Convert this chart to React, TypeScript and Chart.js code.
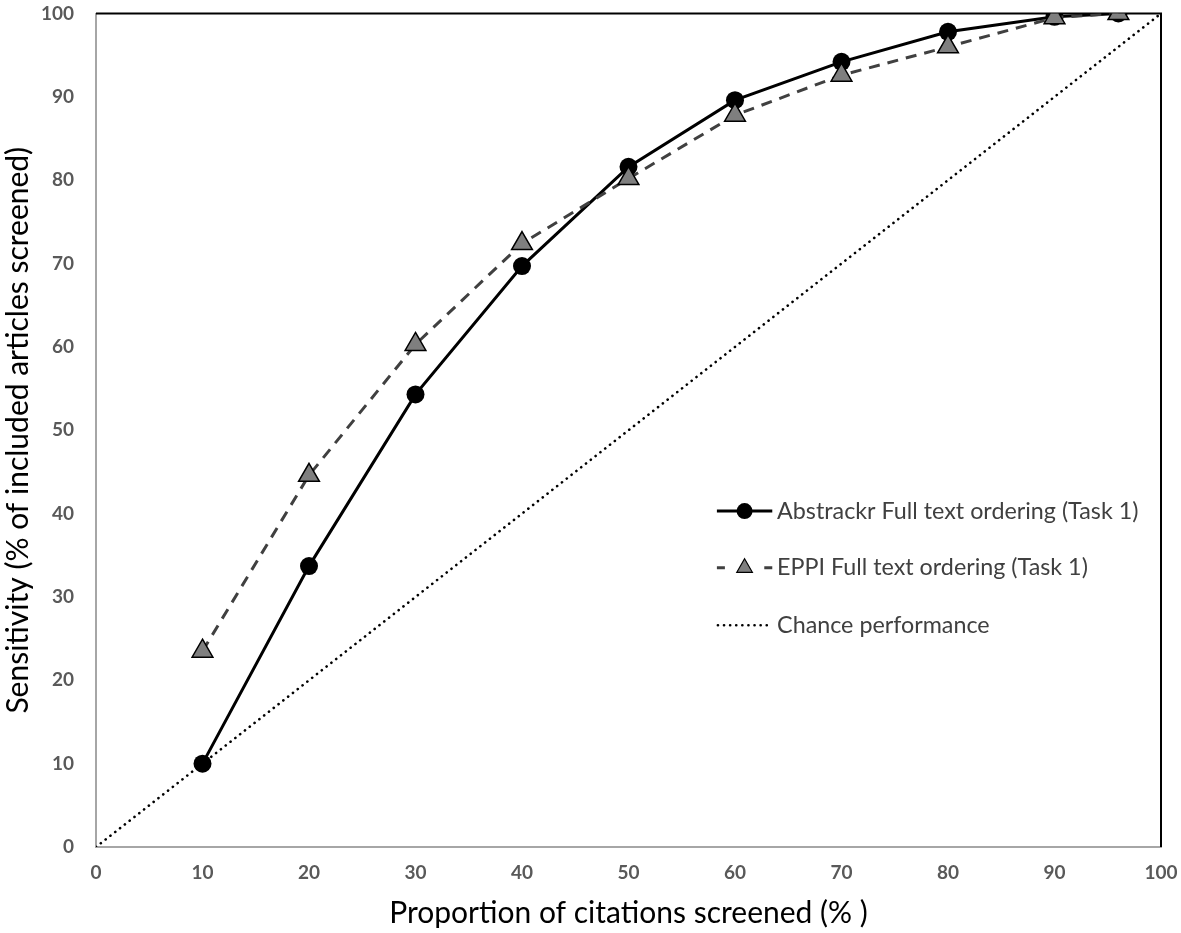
import React, { useEffect, useRef } from "react";
import { Chart, registerables } from "chart.js";

Chart.register(...registerables);

const proportionScreened = [10, 20, 30, 40, 50, 60, 70, 80, 90, 96];
const abstrackrSensitivity = [10.0, 33.7, 54.3, 69.7, 81.6, 89.6, 94.2, 97.8, 99.6, 100];
const eppiSensitivity = [23.5, 44.6, 60.3, 72.4, 80.2, 87.8, 92.6, 96.0, 99.5, 100];
const chanceX = [0, 100];
const chanceY = [0, 100];
const seriesLabels = [
  "Abstrackr Full text ordering (Task 1)",
  "EPPI Full text ordering (Task 1)",
  "Chance performance",
];
const xTitle = "Proportion of citations screened (% )";
const yTitle = "Sensitivity (% of included articles screened)";

const FONT = "Lato, Calibri, 'Open Sans', sans-serif";

const frameAndLegend = {
  id: "frameAndLegend",
  beforeDatasetsDraw(chart: any) {
    const { ctx, chartArea } = chart;
    ctx.save();
    ctx.strokeStyle = "#000";
    ctx.lineWidth = 2;
    ctx.beginPath();
    ctx.moveTo(chartArea.left, chartArea.top);
    ctx.lineTo(chartArea.right, chartArea.top);
    ctx.lineTo(chartArea.right, chartArea.bottom);
    ctx.stroke();
    ctx.restore();
  },
  afterDraw(chart: any) {
    const { ctx } = chart;
    const xScale = chart.scales.x;
    const yScale = chart.scales.y;
    const x0 = xScale.getPixelForValue(58.3);
    const x1 = xScale.getPixelForValue(63.5);
    const tx = xScale.getPixelForValue(63.95);
    const rowYs = [40.3, 33.5, 26.6].map((v) => yScale.getPixelForValue(v));
    ctx.save();
    chart.data.datasets.forEach((ds: any, i: number) => {
      const y = rowYs[i];
      const cx = (x0 + x1) / 2;
      ctx.strokeStyle = ds.borderColor;
      ctx.lineWidth = ds.borderWidth;
      ctx.lineCap = i === 2 ? "round" : "butt";
      if (i === 0) {
        ctx.setLineDash([]);
        ctx.beginPath();
        ctx.moveTo(x0, y);
        ctx.lineTo(x1, y);
        ctx.stroke();
        ctx.fillStyle = "#000";
        ctx.beginPath();
        ctx.arc(cx, y, 8, 0, Math.PI * 2);
        ctx.fill();
      } else if (i === 1) {
        ctx.setLineDash([]);
        ctx.beginPath();
        ctx.moveTo(x0, y);
        ctx.lineTo(x0 + 8, y);
        ctx.moveTo(x1 - 8, y);
        ctx.lineTo(x1, y);
        ctx.stroke();
        const r = 9;
        ctx.fillStyle = "#7f7f7f";
        ctx.strokeStyle = "#000";
        ctx.lineWidth = 1.2;
        ctx.beginPath();
        ctx.moveTo(cx, y - r);
        ctx.lineTo(cx + r * 0.866, y + r * 0.5);
        ctx.lineTo(cx - r * 0.866, y + r * 0.5);
        ctx.closePath();
        ctx.fill();
        ctx.stroke();
      } else {
        ctx.setLineDash([0.1, 6]);
        ctx.lineWidth = 2.6;
        ctx.beginPath();
        ctx.moveTo(x0 + 1, y);
        ctx.lineTo(x1, y);
        ctx.stroke();
      }
      ctx.setLineDash([]);
      ctx.fillStyle = "#404040";
      ctx.font = `23.3px ${FONT}`;
      ctx.textAlign = "left";
      ctx.textBaseline = "middle";
      ctx.fillText(ds.label, tx, y);
    });
    ctx.restore();
  },
};

export default function App() {
  const canvasRef = useRef<HTMLCanvasElement | null>(null);

  useEffect(() => {
    document.body.style.margin = "0";
    const canvas = canvasRef.current;
    if (!canvas) return;
    const chart = new Chart(canvas, {
      type: "line",
      data: {
        datasets: [
          {
            label: seriesLabels[0],
            data: proportionScreened.map((x, i) => ({ x, y: abstrackrSensitivity[i] })),
            borderColor: "#000000",
            backgroundColor: "#000000",
            borderWidth: 3,
            pointRadius: 9,
            pointHoverRadius: 9,
            pointBorderWidth: 0,
            pointStyle: "circle",
            order: 2,
          },
          {
            label: seriesLabels[1],
            data: proportionScreened.map((x, i) => ({ x, y: eppiSensitivity[i] })),
            borderColor: "#404040",
            backgroundColor: "#7f7f7f",
            pointBorderColor: "#000000",
            borderWidth: 3,
            borderDash: [11, 8],
            pointRadius: 12,
            pointHoverRadius: 12,
            pointBorderWidth: 1.5,
            pointStyle: "triangle",
            order: 1,
          },
          {
            label: seriesLabels[2],
            data: chanceX.map((x, i) => ({ x, y: chanceY[i] })),
            borderColor: "#000000",
            borderWidth: 2.6,
            borderDash: [0.1, 6],
            borderCapStyle: "round",
            pointRadius: 0,
            order: 3,
          },
        ],
      },
      options: {
        responsive: false,
        animation: false,
        events: [],
        layout: { padding: { left: 0, top: 13, right: 20, bottom: 0 } },
        plugins: {
          legend: { display: false },
          tooltip: { enabled: false },
        },
        scales: {
          x: {
            type: "linear",
            min: 0,
            max: 100,
            grid: { display: false, drawTicks: false },
            border: { display: true, color: "#a6a6a6", width: 2 },
            ticks: {
              stepSize: 10,
              padding: 14,
              color: "#595959",
              font: { family: FONT, size: 19, weight: "bold" },
            },
            title: {
              display: true,
              text: xTitle,
              color: "#000",
              font: { family: FONT, size: 30 },
              padding: { top: 0, bottom: 2 },
            },
            afterFit(scale: any) {
              scale.height = 86;
              scale.paddingLeft = 0;
              scale.paddingRight = 0;
            },
          },
          y: {
            type: "linear",
            min: 0,
            max: 100,
            grid: { display: false, drawTicks: false },
            border: { display: true, color: "#a6a6a6", width: 2 },
            ticks: {
              stepSize: 10,
              padding: 22,
              color: "#595959",
              font: { family: FONT, size: 19, weight: "bold" },
            },
            title: {
              display: true,
              text: yTitle,
              color: "#000",
              font: { family: FONT, size: 30 },
              padding: { top: 0, bottom: 0 },
            },
            afterFit(scale: any) {
              scale.width = 96;
              scale.paddingTop = 0;
              scale.paddingBottom = 0;
            },
          },
        },
      },
      plugins: [frameAndLegend],
    } as any);
    return () => chart.destroy();
  }, []);

  return (
    <div style={{ width: 1181, height: 933, background: "#fff" }}>
      <canvas ref={canvasRef} width={1181} height={933} />
    </div>
  );
}
